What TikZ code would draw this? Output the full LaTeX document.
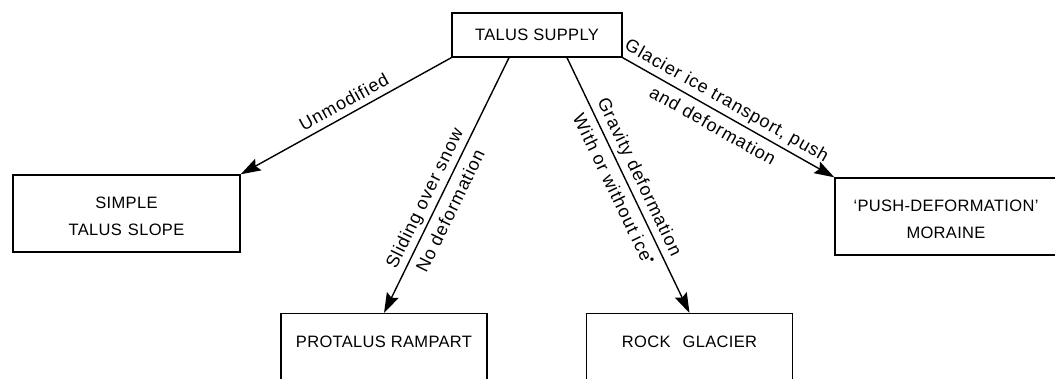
\documentclass[tikz,border=0pt]{standalone}
\usepackage{fontspec}
\setmainfont{Liberation Sans}
\newfontfamily\boxfont[LetterSpace=2]{Liberation Sans}
\newfontfamily\labfont[LetterSpace=5]{Liberation Sans}
\usetikzlibrary{arrows.meta}
\tikzset{
  box/.style={draw, line width=1.4pt, inner sep=0pt, font=\boxfont\fontsize{16.5}{27}\selectfont, align=center},
  openbox/.style={draw, line width=1.4pt, inner sep=0pt, font=\boxfont\fontsize{16.5}{27}\selectfont, anchor=north, minimum width=206pt, text height=34pt, text depth=60pt},
  lab/.style={font=\labfont\fontsize{18}{29}\selectfont, inner sep=0pt, sloped, align=center},
  arr/.style={line width=1.4pt, -{Stealth[length=20pt,width=13pt,inset=3pt]}}
}
\begin{document}
\begin{tikzpicture}[x=1pt,y=-1pt]
\useasboundingbox (0,0) rectangle (1055,379);
\clip (0,0) rectangle (1055,379);
\node[box, minimum width=170pt, minimum height=44pt] (ts) at (537,35) {TALUS SUPPLY};
\node[box, minimum width=227pt, minimum height=77pt] (sts) at (126.5,213.5) {\rule{0pt}{17.5pt}SIMPLE\\TALUS\hspace{6pt}SLOPE};
\node[box, minimum width=222pt, minimum height=77pt] (pm) at (946,216.5) {\rule{0pt}{17.5pt}‘PUSH-DEFORMATION’\\MORAINE};
\node[openbox] (pr) at (384,313) {PROTALUS RAMPART};
\node[openbox] (rg) at (689.5,313) {ROCK\hspace{12pt}GLACIER};
\draw[arr] (ts.south west) -- node[lab, pos=0.48, above=6pt] {Unmodified} (sts.north east);
\draw[arr] ([xshift=-28pt]ts.south) -- node[lab, pos=0.575] {Sliding over snow\\No deformation} (pr.north);
\draw[arr] ([xshift=30pt]ts.south) -- node[lab, pos=0.49] {Gravity\hspace{6pt}deformation\\With or without ice\raisebox{6pt}{\scalebox{0.7}{•}}} (rg.north);
\draw[arr] (ts.south east) -- node[lab, pos=0.46] {Glacier ice transport, push\\and deformation} (pm.north west);
\end{tikzpicture}
\end{document}
